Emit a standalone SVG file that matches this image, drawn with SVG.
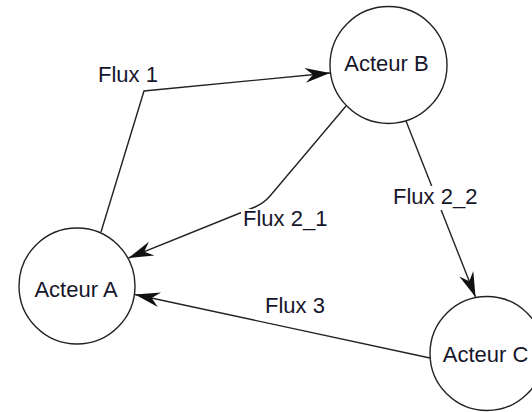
<svg xmlns="http://www.w3.org/2000/svg" width="532" height="412" viewBox="0 0 532 412">
<style>
.node{fill:#fff;stroke:#222;stroke-width:1.4}
.lbl{font-family:"Liberation Sans",Arial,sans-serif;font-size:22px;fill:#16162a}
.edge{fill:none;stroke:#222;stroke-width:1.4}
.bg{fill:#fff}
</style>
<defs>
<marker id="arr" markerUnits="userSpaceOnUse" markerWidth="30" markerHeight="20" viewBox="-26 -10 28 20" refX="0" refY="0" orient="auto">
<path d="M0,0 L-25,-7.5 L-17,0 L-25,7.5 Z" fill="#111"/>
</marker>
</defs>
<rect width="532" height="412" fill="#fff"/>
<g id="edges">
<path id="e-flux1" class="edge" d="M101,232 L144,91 L330,73" marker-end="url(#arr)"/>
<path id="e-flux21" class="edge" d="M346,106 L270,196 Q264,203 255,207 L128.5,258" marker-end="url(#arr)"/>
<path id="e-flux22" class="edge" d="M406,121 L475.5,297" marker-end="url(#arr)"/>
<path id="e-flux3" class="edge" d="M430,358 L135,294.5" marker-end="url(#arr)"/>
<g id="edge-labels">
<text class="lbl" x="98" y="82">Flux 1</text>
<rect class="bg" x="241" y="209" width="88" height="20"/>
<text class="lbl" x="243" y="226">Flux 2_1</text>
<rect class="bg" x="391" y="186" width="88" height="24"/>
<text class="lbl" x="393" y="204">Flux 2_2</text>
<text class="lbl" x="265" y="313">Flux 3</text>
</g>
</g>
<g id="acteurA">
<circle class="node" cx="77" cy="286" r="58"/>
<text class="lbl" x="76" y="297" text-anchor="middle">Acteur A</text>
</g>
<g id="acteurB">
<circle class="node" cx="388.5" cy="65" r="58.5"/>
<text class="lbl" x="386.5" y="71" text-anchor="middle">Acteur B</text>
</g>
<g id="acteurC">
<circle class="node" cx="487" cy="353.5" r="57"/>
<text class="lbl" x="485.5" y="362" text-anchor="middle">Acteur C</text>
</g>
</svg>
